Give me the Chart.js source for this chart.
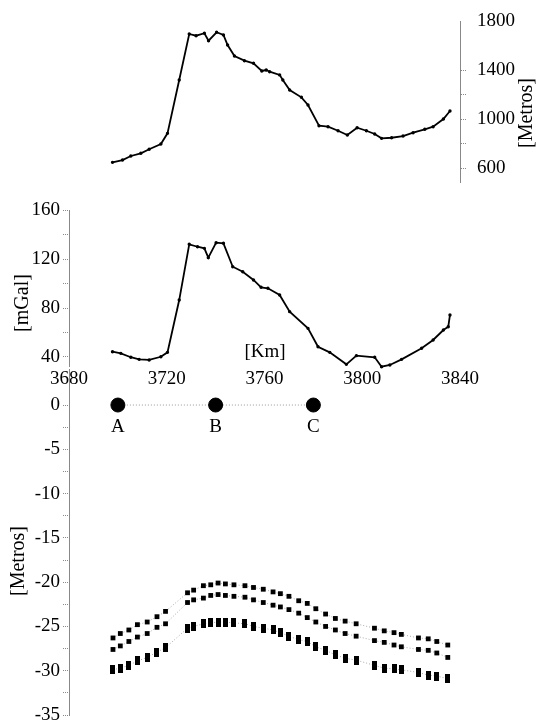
<!DOCTYPE html>
<html>
<head>
<meta charset="utf-8">
<script src="https://cdn.jsdelivr.net/npm/chart.js@4.4.1/dist/chart.umd.min.js"></script>
<style>
  html, body { margin: 0; padding: 0; background: #fff; overflow: hidden; }
  #wrap { position: relative; width: 540px; height: 724px; }
  #wrap canvas { position: absolute; left: 0; top: 0; }
</style>
</head>
<body>
<div id="wrap">
  <canvas id="topo" width="540" height="724"></canvas>
  <canvas id="grav" width="540" height="724"></canvas>
  <canvas id="defo" width="540" height="724"></canvas>
</div>
<script>
// shared distance axis
const kmTicks = [3680, 3720, 3760, 3800, 3840];

// topography profile
const topoKm = [3697.8, 3701.9, 3705.3, 3709.4, 3712.8, 3717.6, 3720.3, 3725.1, 3729.2, 3732.0,
  3735.4, 3737.1, 3740.4, 3743.2, 3744.9, 3747.7, 3751.8, 3755.5, 3758.9, 3760.7,
  3762.1, 3766.2, 3767.5, 3770.3, 3775.1, 3777.8, 3782.3, 3786.0, 3790.1, 3793.9,
  3797.9, 3801.7, 3805.1, 3807.9, 3812.0, 3816.7, 3820.8, 3825.6, 3829.0, 3833.2, 3835.9];
const topoElev = [646, 665, 698, 720, 753, 796, 883, 1318, 1694, 1680,
  1700, 1639, 1708, 1686, 1604, 1514, 1476, 1455, 1392, 1400,
  1386, 1360, 1318, 1237, 1177, 1114, 945, 937, 904, 869,
  929, 904, 878, 842, 847, 861, 888, 916, 937, 1000, 1065];
const topoTicks = [600, 800, 1000, 1200, 1400, 1800];
const topoTickLabels = ['600', '', '1000', '', '1400', '1800'];

// gravity anomaly
const gravKm = [3697.8, 3701.2, 3705.3, 3708.7, 3712.8, 3717.6, 3720.3, 3725.1, 3729.2, 3732.6,
  3735.4, 3737.0, 3740.2, 3743.2, 3747.0, 3751.1, 3755.5, 3758.6, 3761.4, 3766.2,
  3770.3, 3777.8, 3781.9, 3786.7, 3793.5, 3797.6, 3805.1, 3807.9, 3811.3, 3816.1,
  3824.3, 3829.0, 3833.2, 3835.2, 3835.9];
const gravMgal = [44.3, 43.0, 39.8, 38.1, 37.6, 40.2, 43.8, 86.5, 132.0, 130.0,
  128.7, 121.1, 133.3, 132.8, 113.7, 109.6, 102.9, 96.9, 96.1, 90.6,
  77.0, 63.4, 48.4, 43.8, 34.0, 41.1, 39.8, 32.1, 33.5, 38.1,
  47.1, 53.9, 62.0, 64.7, 74.3];
const gravTicks = [40, 60, 80, 100, 120, 140, 160];
const gravTickLabels = ['40', '', '80', '', '120', '', '160'];

// stations
const stationKm = [3700, 3740, 3780];
const stationY = [0, 0, 0];
const stationNames = ['A', 'B', 'C'];

// deformation profiles
const defoKm = [3698, 3701, 3704.5, 3708, 3712, 3716, 3719.5, 3728.5, 3731, 3735,
  3738, 3741, 3744, 3747.5, 3752, 3755.5, 3759.5, 3763.5, 3766.5, 3770,
  3774, 3777.5, 3781, 3785, 3789, 3793, 3797.5, 3805, 3809, 3813,
  3816, 3823, 3827, 3830.5, 3835];
const defoTop = [-26.3, -25.8, -25.4, -24.8, -24.5, -23.9, -23.3, -21.2, -20.9, -20.4,
  -20.3, -20.1, -20.2, -20.3, -20.4, -20.6, -20.8, -21.1, -21.3, -21.6,
  -22.1, -22.4, -23.0, -23.6, -24.1, -24.4, -24.7, -25.2, -25.5, -25.7,
  -25.9, -26.3, -26.4, -26.7, -27.1];
const defoMid = [-27.6, -27.2, -26.7, -26.2, -25.8, -25.1, -24.7, -22.3, -22.0, -21.8,
  -21.5, -21.4, -21.5, -21.6, -21.7, -22.0, -22.3, -22.6, -22.8, -23.1,
  -23.5, -24.0, -24.5, -25.0, -25.4, -25.8, -26.1, -26.6, -26.8, -27.1,
  -27.3, -27.6, -27.7, -28.0, -28.5];
const defoLow = [-29.9, -29.7, -29.4, -28.9, -28.5, -27.9, -27.4, -25.2, -25.0, -24.7,
  -24.6, -24.5, -24.5, -24.6, -24.7, -25.0, -25.2, -25.4, -25.7, -26.1,
  -26.5, -26.7, -27.3, -27.7, -28.2, -28.6, -28.8, -29.4, -29.7, -29.8,
  -29.9, -30.2, -30.5, -30.6, -30.9];
const defoTicks = [0, -2.5, -5, -7.5, -10, -12.5, -15, -17.5, -20, -22.5, -25, -27.5, -30, -32.5, -35];
const defoTickLabels = ['0', '', '-5', '', '-10', '', '-15', '', '-20', '', '-25', '', '-30', '', '-35'];

const FONT = "'Liberation Serif', 'DejaVu Serif', serif";
Chart.defaults.font.family = FONT;
Chart.defaults.font.size = 19;
Chart.defaults.color = '#000';

const zip = (xs, ys) => xs.map((x, i) => ({ x: x, y: ys[i] }));

// free text (axis titles etc.)
const textPlugin = {
  id: 'sideText',
  afterDraw(chart, args, opts) {
    const ctx = chart.ctx;
    (opts.items || []).forEach(it => {
      ctx.save();
      ctx.font = (it.size || 20) + 'px ' + FONT;
      ctx.fillStyle = '#000';
      ctx.textAlign = 'center';
      ctx.textBaseline = 'middle';
      ctx.translate(it.x, it.y);
      if (it.rotate) ctx.rotate(it.rotate);
      ctx.fillText(it.text, 0, 0);
      ctx.restore();
    });
  }
};

const stationLabels = {
  id: 'stationLabels',
  afterDatasetsDraw(chart) {
    const meta = chart.getDatasetMeta(3);
    const ctx = chart.ctx;
    ctx.save();
    ctx.font = '19px ' + FONT;
    ctx.fillStyle = '#000';
    ctx.textAlign = 'center';
    ctx.textBaseline = 'middle';
    meta.data.forEach((pt, i) => ctx.fillText(stationNames[i], pt.x, pt.y + 22));
    ctx.restore();
  }
};

// tall marker for the lowest profile
function barMark(w, h) {
  const c = document.createElement('canvas');
  c.width = w;
  c.height = h;
  const g = c.getContext('2d');
  g.fillStyle = '#000';
  g.fillRect(0, 0, w, h);
  return c;
}

const axisGrey = '#888';
const fixTicks = vals => s => { s.ticks = vals.map(v => ({ value: v })); };

const common = {
  responsive: false,
  animation: false,
  devicePixelRatio: 1,
  events: [],
};

// top: topography
new Chart(document.getElementById('topo'), {
  type: 'line',
  data: {
    datasets: [{
      data: zip(topoKm, topoElev),
      borderColor: '#000',
      borderWidth: 1.8,
      pointRadius: 0.8,
      pointBackgroundColor: '#000',
      pointBorderColor: '#000',
      tension: 0,
      clip: false
    }]
  },
  options: {
    ...common,
    layout: { padding: { left: 69, right: 0, top: 21, bottom: 541.3 } },
    scales: {
      x: { type: 'linear', min: 3680, max: 3840, display: false },
      y: {
        position: 'right',
        min: 480,
        max: 1800,
        afterBuildTicks: fixTicks(topoTicks),
        afterFit: s => { s.width = 80; s.paddingTop = 0; s.paddingBottom = 0; },
        ticks: { autoSkip: false, padding: 11, callback: (v, i) => topoTickLabels[i] },
        grid: {
          drawOnChartArea: false,
          tickLength: 6,
          tickBorderDash: [1, 1],
          color: c => (c.tick && c.tick.value === 1800) ? 'rgba(0,0,0,0)' : axisGrey
        },
        border: { color: axisGrey, dash: [1, 2] }
      }
    },
    plugins: {
      legend: { display: false },
      tooltip: { enabled: false },
      sideText: { items: [{ text: '[Metros]', x: 527, y: 113, rotate: -Math.PI / 2 }] }
    }
  },
  plugins: [textPlugin]
});

// middle: gravity
new Chart(document.getElementById('grav'), {
  type: 'line',
  data: {
    datasets: [{
      data: zip(gravKm, gravMgal),
      borderColor: '#000',
      borderWidth: 1.8,
      pointRadius: 0.8,
      pointBackgroundColor: '#000',
      pointBorderColor: '#000',
      tension: 0,
      clip: false
    }]
  },
  options: {
    ...common,
    layout: { padding: { left: 8, right: 80, top: 210, bottom: 327.2 } },
    scales: {
      x: {
        type: 'linear',
        min: 3680,
        max: 3840,
        afterBuildTicks: fixTicks(kmTicks),
        afterFit: s => { s.height = 30; s.paddingLeft = 0; s.paddingRight = 0; },
        ticks: { autoSkip: false, maxRotation: 0, padding: -7, callback: v => String(v) },
        grid: { display: false },
        border: { display: false }
      },
      y: {
        min: 32,
        max: 160,
        afterBuildTicks: fixTicks(gravTicks),
        afterFit: s => { s.width = 61; s.paddingTop = 0; s.paddingBottom = 0; },
        ticks: { autoSkip: false, padding: 3, callback: (v, i) => gravTickLabels[i] },
        grid: { drawOnChartArea: false, tickLength: 6, tickBorderDash: [1, 1], color: axisGrey },
        border: { color: axisGrey, dash: [1, 2] }
      }
    },
    plugins: {
      legend: { display: false },
      tooltip: { enabled: false },
      sideText: {
        items: [
          { text: '[mGal]', x: 23, y: 303, rotate: -Math.PI / 2 },
          { text: '[Km]', x: 265, y: 352, size: 19 }
        ]
      }
    }
  },
  plugins: [textPlugin]
});

// bottom: deformation profiles and stations
const defoStyle = (vals, style, r) => ({
  data: zip(defoKm, vals),
  borderColor: '#aaa',
  borderWidth: 1,
  borderDash: [1, 2],
  pointStyle: style,
  pointRadius: r,
  pointBackgroundColor: '#000',
  pointBorderColor: '#000',
  pointBorderWidth: 0,
  tension: 0,
  clip: false
});

new Chart(document.getElementById('defo'), {
  type: 'line',
  data: {
    datasets: [
      defoStyle(defoTop, 'rect', 3.4),
      defoStyle(defoMid, 'rect', 3.4),
      defoStyle(defoLow, barMark(5, 9), 4),
      {
        data: zip(stationKm, stationY),
        borderColor: '#999',
        borderWidth: 1,
        borderDash: [1, 2],
        pointRadius: 7,
        pointBackgroundColor: '#000',
        pointBorderColor: '#000',
        tension: 0,
        clip: false
      }
    ]
  },
  options: {
    ...common,
    layout: { padding: { left: 8, right: 80, top: 369.6, bottom: 9 } },
    scales: {
      x: { type: 'linear', min: 3680, max: 3840, display: false },
      y: {
        min: -35,
        max: 4,
        afterBuildTicks: fixTicks(defoTicks),
        afterFit: s => { s.width = 61; s.paddingTop = 0; s.paddingBottom = 0; },
        ticks: { autoSkip: false, padding: 3, callback: (v, i) => defoTickLabels[i] },
        grid: { drawOnChartArea: false, tickLength: 6, tickBorderDash: [1, 1], color: axisGrey },
        border: { color: axisGrey, dash: [1, 2] }
      }
    },
    plugins: {
      legend: { display: false },
      tooltip: { enabled: false },
      sideText: { items: [{ text: '[Metros]', x: 19, y: 561, rotate: -Math.PI / 2 }] }
    }
  },
  plugins: [textPlugin, stationLabels]
});
</script>
</body>
</html>
